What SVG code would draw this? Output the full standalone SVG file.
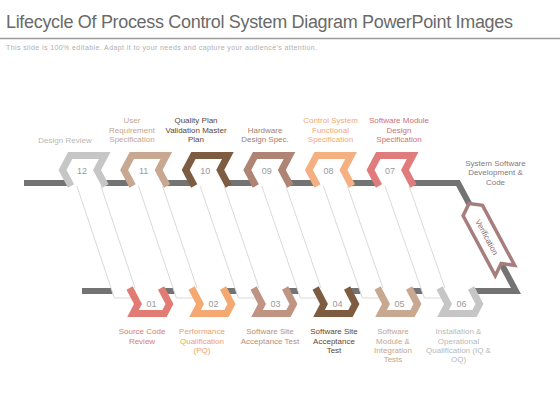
<svg xmlns="http://www.w3.org/2000/svg" width="560" height="420" viewBox="0 0 560 420">
<style>
text{font-family:"Liberation Sans",Arial,sans-serif}
.lbl{font-size:8px;text-anchor:middle}
.num{font-size:9px;fill:#9a9a9a;text-anchor:middle}
.chev{fill:#ffffff;stroke-width:7;stroke-linejoin:miter;stroke-miterlimit:10}
.rib{fill:#ffffff;stroke:#dadada;stroke-width:1}
.bar{fill:none;stroke:#737373;stroke-width:6;stroke-linejoin:miter;stroke-miterlimit:10}
</style>
<defs>
<path id="ct" d="M -11,16 L -19.5,0 L -11.8,-14.5 L 22.7,-14.5 L 15,0 L 23.5,16"/>
<path id="cb" d="M -21.9,-16 L -13.5,0 L -18.5,9.5 L 13,9.5 L 18,0 L 9.6,-16"/>
</defs>
<rect width="560" height="420" fill="#ffffff"/>
<text x="6" y="28" font-size="18" fill="#6a6a6a" textLength="507" lengthAdjust="spacing">Lifecycle Of Process Control System Diagram PowerPoint Images</text>
<line x1="0" y1="38.5" x2="560" y2="38.5" stroke="#9a9a9a" stroke-width="1.6"/>
<text x="6" y="49.5" font-size="7" fill="#b0b0b0" textLength="311" lengthAdjust="spacing">This slide is 100% editable. Adapt it to your needs and capture your audience's attention.</text>

<g id="connectors">
<path class="bar" d="M24,183 L458,183 L516,291 L82,291"/>
<g id="ribbons">
<polygon class="rib" points="74.2,178 98.2,178 138.4,298 114.4,298"/>
<polygon class="rib" points="135.8,178 159.8,178 200.4,298 176.4,298"/>
<polygon class="rib" points="197.4,178 221.4,178 262.4,298 238.4,298"/>
<polygon class="rib" points="259,178 283,178 324.4,298 300.4,298"/>
<polygon class="rib" points="320.6,178 344.6,178 386.4,298 362.4,298"/>
<polygon class="rib" points="382.2,178 406.2,178 448.4,298 424.4,298"/>
</g>
</g>

<g id="verification" transform="translate(487,237) rotate(61.8)">
<polygon points="-38,0 -30,-11 38,-11 30,0 38,11 -30,11" fill="#ffffff" stroke="#a67e7e" stroke-width="3.5" stroke-linejoin="miter"/>
<text x="0" y="3" font-size="8" fill="#8c6a6a" text-anchor="middle">Verification</text>
</g>

<g id="n12" transform="translate(82,170)"><use href="#ct" class="chev" stroke="#c6c6c6"/><text class="num" x="0" y="3.5">12</text></g>
<g id="n11" transform="translate(143.6,170)"><use href="#ct" class="chev" stroke="#c8a890"/><text class="num" x="0" y="3.5">11</text></g>
<g id="n10" transform="translate(205.2,170)"><use href="#ct" class="chev" stroke="#7d5c42"/><text class="num" x="0" y="3.5">10</text></g>
<g id="n09" transform="translate(266.8,170)"><use href="#ct" class="chev" stroke="#b08474"/><text class="num" x="0" y="3.5">09</text></g>
<g id="n08" transform="translate(328.4,170)"><use href="#ct" class="chev" stroke="#f4b080"/><text class="num" x="0" y="3.5">08</text></g>
<g id="n07" transform="translate(390,170)"><use href="#ct" class="chev" stroke="#e07c7c"/><text class="num" x="0" y="3.5">07</text></g>

<g id="n01" transform="translate(151.5,304)"><use href="#cb" class="chev" stroke="#e07c74"/><text class="num" x="0" y="3">01</text></g>
<g id="n02" transform="translate(213.5,304)"><use href="#cb" class="chev" stroke="#f4a872"/><text class="num" x="0" y="3">02</text></g>
<g id="n03" transform="translate(275.5,304)"><use href="#cb" class="chev" stroke="#c09482"/><text class="num" x="0" y="3">03</text></g>
<g id="n04" transform="translate(337.5,304)"><use href="#cb" class="chev" stroke="#7d5c42"/><text class="num" x="0" y="3">04</text></g>
<g id="n05" transform="translate(399.5,304)"><use href="#cb" class="chev" stroke="#c8a890"/><text class="num" x="0" y="3">05</text></g>
<g id="n06" transform="translate(461.5,304)"><use href="#cb" class="chev" stroke="#c6c6c6"/><text class="num" x="0" y="3">06</text></g>

<g id="labels-top">
<text class="lbl" fill="#b8b8b8" x="65" y="142.5">Design Review</text>
<text class="lbl" fill="#c4a68e"><tspan x="132" y="123">User</tspan><tspan x="132" y="132.5">Requirement</tspan><tspan x="132" y="142">Specification</tspan></text>
<text class="lbl" fill="#5e4632"><tspan x="196" y="123">Quality Plan</tspan><tspan x="196" y="132.5">Validation Master</tspan><tspan x="196" y="142">Plan</tspan></text>
<text class="lbl" fill="#a0806e"><tspan x="265" y="132.5">Hardware</tspan><tspan x="265" y="142">Design Spec.</tspan></text>
<text class="lbl" fill="#f2a878"><tspan x="330.5" y="123">Control System</tspan><tspan x="330.5" y="132.5">Functional</tspan><tspan x="330.5" y="142">Specification</tspan></text>
<text class="lbl" fill="#cc7272"><tspan x="399" y="123">Software Module</tspan><tspan x="399" y="132.5">Design</tspan><tspan x="399" y="142">Specification</tspan></text>
<text class="lbl" fill="#877a82"><tspan x="495.5" y="165.5">System Software</tspan><tspan x="495.5" y="175">Development &amp;</tspan><tspan x="495.5" y="184.5">Code</tspan></text>
</g>
<g id="labels-bottom">
<text class="lbl" fill="#e0786e"><tspan x="142" y="334.3">Source Code</tspan><tspan x="142" y="343.6">Review</tspan></text>
<text class="lbl" fill="#f0a068"><tspan x="202" y="334.3">Performance</tspan><tspan x="202" y="343.6">Qualification</tspan><tspan x="202" y="352.9">(PQ)</tspan></text>
<text class="lbl" fill="#b88e7c"><tspan x="270" y="334.3">Software Site</tspan><tspan x="270" y="343.6">Acceptance Test</tspan></text>
<text class="lbl" fill="#5e4632"><tspan x="334" y="334.3">Software Site</tspan><tspan x="334" y="343.6">Acceptance</tspan><tspan x="334" y="352.9">Test</tspan></text>
<text class="lbl" fill="#c4a68e"><tspan x="393" y="334.3">Software</tspan><tspan x="393" y="343.6">Module &amp;</tspan><tspan x="393" y="352.9">Integration</tspan><tspan x="393" y="362.2">Tests</tspan></text>
<text class="lbl" fill="#b8b8b8"><tspan x="458.5" y="334.3">Installation &amp;</tspan><tspan x="458.5" y="343.6">Operational</tspan><tspan x="458.5" y="352.9">Qualification (IQ &amp;</tspan><tspan x="458.5" y="362.2">OQ)</tspan></text>
</g>
</svg>
